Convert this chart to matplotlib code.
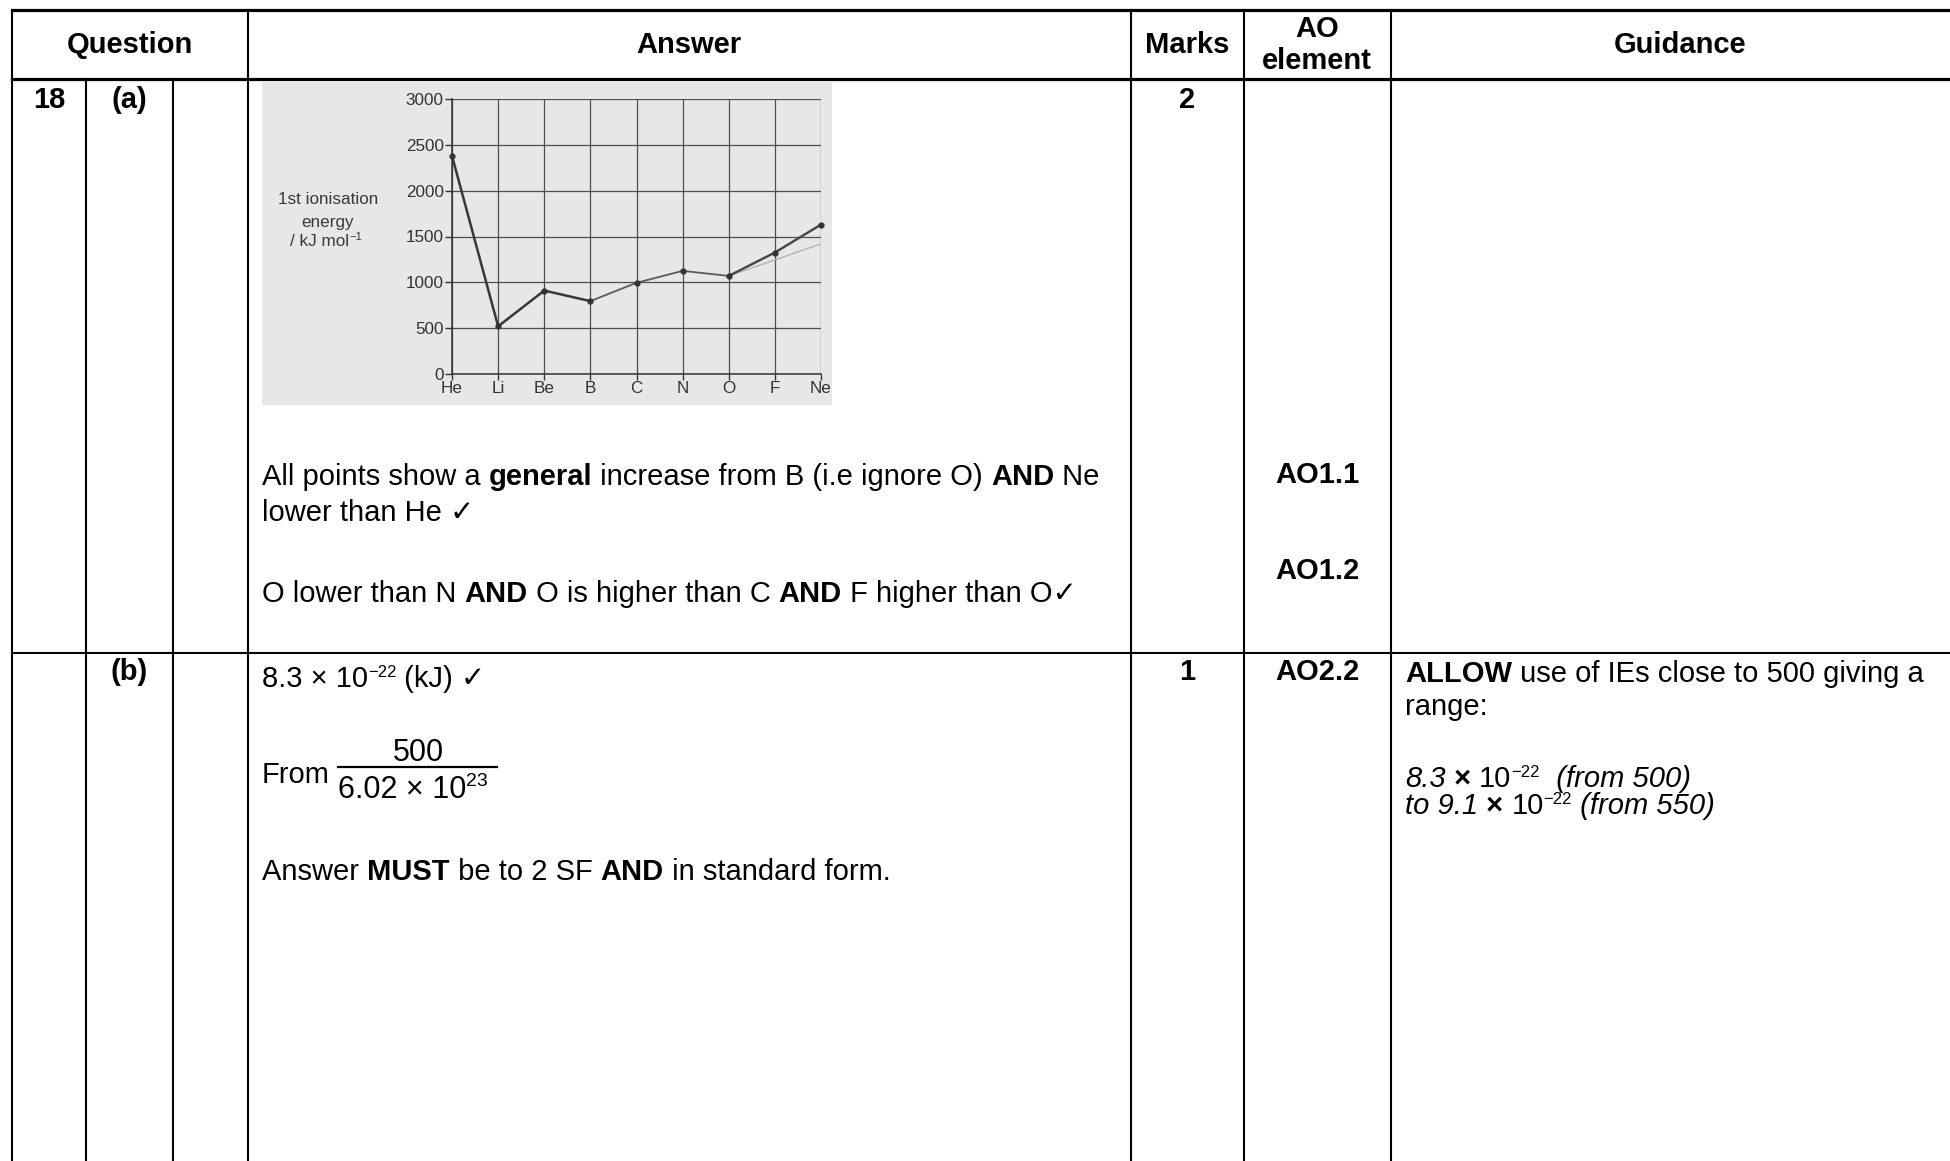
import matplotlib
matplotlib.use("Agg")
import matplotlib.pyplot as plt
from matplotlib.patches import Rectangle

W, H = 1950, 1161
FAM = ['Liberation Sans', 'DejaVu Sans']
FS = 21

# chart data
elements = ['He', 'Li', 'Be', 'B', 'C', 'N', 'O', 'F', 'Ne']
ie = [2380, 520, 910, 795, 995, 1125, 1070, 1325, 1630]
faint_el = ['O', 'Ne']
faint_ie = [1070, 1420]
yticks = [0, 500, 1000, 1500, 2000, 2500, 3000]

# table texts
headers = ['Question', 'Answer', 'Marks', 'Guidance']
marks = ['2', '1']
ao_a = ['AO1.1', 'AO1.2']
ao_b = 'AO2.2'

fig = plt.figure(figsize=(W / 100, H / 100), dpi=100)
fig.patch.set_facecolor('white')
ov = fig.add_axes([0, 0, 1, 1])
ov.set_xlim(0, W)
ov.set_ylim(H, 0)
ov.axis('off')
R = fig.canvas.get_renderer()


def text_width(s, sz, kw):
    a = ov.text(0, 0, '|' + s + '|', fontsize=sz, family=FAM, **kw)
    b = ov.text(0, 0, '||', fontsize=sz, family=FAM, **kw)
    w = a.get_window_extent(R).width - b.get_window_extent(R).width
    a.remove()
    b.remove()
    return w


def run_line(x, y, parts, size=FS, color='black'):
    for txt, kw in parts:
        kw = dict(kw)
        dy = kw.pop('dy', 0)
        sz = kw.pop('size', size)
        ov.text(x, y - dy, txt, fontsize=sz, va='baseline', ha='left',
                family=FAM, color=color, **kw)
        x += text_width(txt, sz, kw)
    return x


B = {'weight': 'bold'}
N = {}
I = {'style': 'italic'}
SUP = {'size': 12, 'dy': 10}

# table rules
thick, thin = 2.3, 1.5
ov.plot([12, W], [10, 10], color='black', lw=thick)
ov.plot([12, W], [79, 79], color='black', lw=thick)
ov.plot([12, W], [653, 653], color='black', lw=thin)
for xv in [12, 248, 1131, 1244, 1391]:
    ov.plot([xv, xv], [10, H], color='black', lw=thin)
for xv in [86, 173]:
    ov.plot([xv, xv], [79, H], color='black', lw=thin)

# header
for xh, t in zip([130, 689, 1187, 1680], headers):
    ov.text(xh, 45, t, ha='center', va='center', fontsize=FS, weight='bold', family=FAM)
ov.text(1317, 29, 'AO', ha='center', va='center', fontsize=FS, weight='bold', family=FAM)
ov.text(1317, 61, 'element', ha='center', va='center', fontsize=FS, weight='bold', family=FAM)

# row (a)
for xv, t in [(49, '18'), (129, '(a)'), (1187, marks[0])]:
    ov.text(xv, 100, t, ha='center', va='center', fontsize=FS, weight='bold', family=FAM)
run_line(262, 485, [('All points show a ', N), ('general', B), (' increase from B (i.e ignore O) ', N),
                    ('AND', B), (' Ne', N)])
run_line(262, 521, [('lower than He \u2713', N)])
run_line(262, 602, [('O lower than N ', N), ('AND', B), (' O is higher than C ', N), ('AND', B),
                    (' F higher than O\u2713', N)])
ov.text(1317, 475, ao_a[0], ha='center', va='center', fontsize=FS, weight='bold', family=FAM)
ov.text(1317, 571, ao_a[1], ha='center', va='center', fontsize=FS, weight='bold', family=FAM)

# row (b)
for xv, t in [(129, '(b)'), (1187, marks[1]), (1317, ao_b)]:
    ov.text(xv, 672, t, ha='center', va='center', fontsize=FS, weight='bold', family=FAM)
run_line(262, 687, [('8.3 \u00d7 10', N), ('\u221222', SUP), (' (kJ) \u2713', N)])

run_line(262, 783, [('From', N)])
ov.text(418, 761, '500', ha='center', va='baseline', fontsize=22, family=FAM)
ov.plot([338, 497], [767, 767], color='black', lw=1.6)
run_line(338, 798, [('6.02 \u00d7 10', {'size': 22}), ('23', {'size': 14, 'dy': 12})])
run_line(262, 880, [('Answer ', N), ('MUST', B), (' be to 2 SF ', N), ('AND', B),
                    (' in standard form.', N)])

run_line(1405, 682, [('ALLOW', B), (' use of IEs close to 500 giving a', N)])
run_line(1405, 715, [('range:', N)])
run_line(1405, 787, [('8.3', I), (' \u00d7 ', B), ('10', N), ('\u221222', SUP), ('  (from 500)', I)])
run_line(1405, 814, [('to 9.1', I), (' \u00d7 ', B), ('10', N), ('\u221222', SUP), (' (from 550)', I)])

# scanned chart
ov.add_patch(Rectangle((262, 82), 570, 323, facecolor='#e6e7e9', edgecolor='none', zorder=0))
gc = '#3a3a3a'
fsc = 12.3
ov.text(328, 200, '1st ionisation', ha='center', va='center', fontsize=fsc, family=FAM, color=gc)
ov.text(328, 223, 'energy', ha='center', va='center', fontsize=fsc, family=FAM, color=gc)
run_line(290, 246, [('/ kJ mol', N), ('\u22121', {'size': 8, 'dy': 6})], size=fsc, color=gc)

left, right, top, bottom = 452, 821, 99, 374
ax = fig.add_axes([left / W, (H - bottom) / H, (right - left) / W, (bottom - top) / H])
ax.patch.set_alpha(0)
xs = list(range(len(elements)))
ax.set_xlim(0, len(elements) - 1)
ax.set_ylim(0, 3000)
ax.set_xticks(xs)
ax.set_xticklabels(elements)
ax.set_yticks(yticks)
ax.grid(True, color='#4f4f4f', lw=0.9)
ax.set_axisbelow(True)
for s in ['top', 'right']:
    ax.spines[s].set_visible(False)
for s in ['left', 'bottom']:
    ax.spines[s].set_color('#333333')
    ax.spines[s].set_linewidth(1.1)
ax.tick_params(axis='y', length=5, width=1, colors='#333333', pad=1, labelsize=fsc)
ax.tick_params(axis='x', length=4, width=1, colors='#333333', pad=1, labelsize=fsc)
for lab in ax.get_xticklabels() + ax.get_yticklabels():
    lab.set_family(FAM)

fx = [elements.index(e) for e in faint_el]
ax.plot(fx, faint_ie, color='#b4b4b4', lw=1.0, zorder=2)
ax.plot(xs[:4], ie[:4], color='#383838', lw=1.8, zorder=3, clip_on=False)
ax.plot(xs[3:7], ie[3:7], color='#5a5a5a', lw=1.3, zorder=3, clip_on=False)
ax.plot(xs[6:], ie[6:], color='#454545', lw=1.7, zorder=3, clip_on=False)
ax.plot(xs, ie, 'o', color='#333333', ms=3.5, zorder=4, clip_on=False)

fig.savefig('out.png', dpi=100)
